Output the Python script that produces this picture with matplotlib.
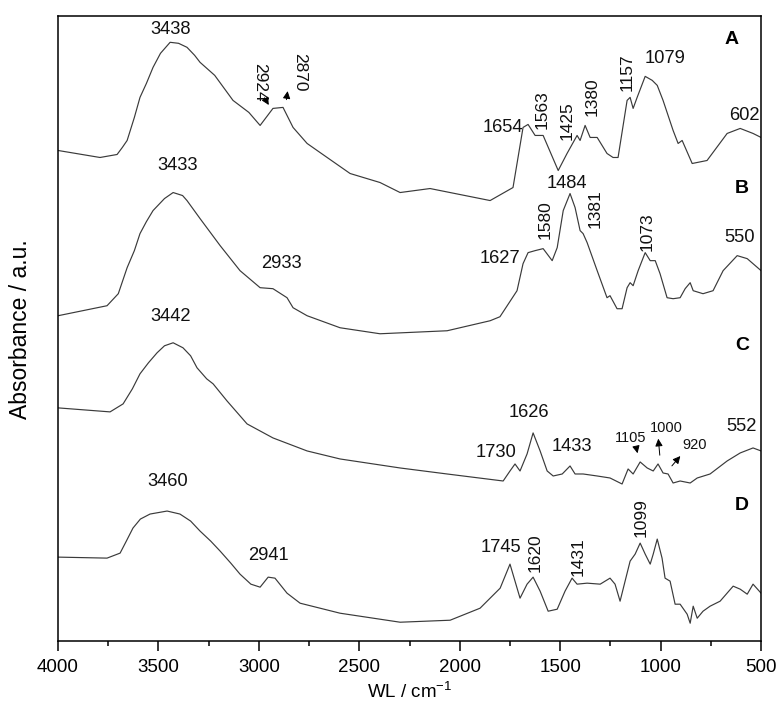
import matplotlib
matplotlib.use('Agg')
import matplotlib.pyplot as plt
from matplotlib.ticker import MultipleLocator

plt.rcParams['font.family'] = ['Liberation Sans', 'DejaVu Sans']
plt.rcParams['mathtext.fontset'] = 'custom'
plt.rcParams['mathtext.rm'] = 'Liberation Sans'
plt.rcParams['mathtext.it'] = 'Liberation Sans'

# spectra: wavenumber (cm-1) and absorbance (a.u., offset stacked)
wn_a = [4000, 3791, 3706, 3680, 3656, 3620, 3592, 3560, 3527, 3490, 3442, 3400, 3358,
        3320, 3293, 3220, 3129, 3050, 2994, 2930, 2880, 2830, 2760, 2696, 2546, 2397,
        2297, 2148, 1849, 1735, 1685, 1660, 1625, 1585, 1510, 1466, 1416, 1401, 1376,
        1351, 1316, 1267, 1237, 1212, 1167, 1152, 1137, 1117, 1077, 1042, 1017, 988,
        938, 913, 893, 843, 769, 669, 604, 540, 500]
abs_a = [4.90, 4.83, 4.86, 4.93, 5.00, 5.23, 5.43, 5.57, 5.73, 5.87, 5.98, 5.97, 5.93,
         5.85, 5.78, 5.65, 5.40, 5.28, 5.15, 5.32, 5.33, 5.13, 4.97, 4.88, 4.67, 4.58,
         4.48, 4.52, 4.40, 4.53, 5.13, 5.16, 5.05, 5.05, 4.70, 4.87, 5.05, 5.00, 5.15,
         5.03, 5.03, 4.87, 4.83, 4.83, 5.40, 5.43, 5.32, 5.43, 5.64, 5.60, 5.55, 5.40,
         5.10, 4.97, 5.00, 4.77, 4.80, 5.07, 5.12, 5.07, 5.03]

wn_b = [4000, 3756, 3700, 3656, 3620, 3592, 3560, 3527, 3470, 3427, 3380, 3358, 3293,
        3193, 3094, 2994, 2930, 2860, 2830, 2760, 2596, 2397, 2063, 1849, 1800, 1764,
        1715, 1685, 1660, 1625, 1585, 1540, 1515, 1485, 1451, 1426, 1401, 1386, 1366,
        1316, 1267, 1252, 1217, 1192, 1167, 1152, 1137, 1112, 1077, 1052, 1027, 1003,
        968, 938, 903, 878, 853, 838, 789, 739, 689, 619, 569, 500]
abs_b = [3.25, 3.35, 3.47, 3.73, 3.90, 4.07, 4.19, 4.30, 4.42, 4.48, 4.45, 4.40, 4.22,
         3.95, 3.70, 3.53, 3.52, 3.43, 3.33, 3.25, 3.13, 3.07, 3.10, 3.20, 3.24, 3.35,
         3.50, 3.77, 3.88, 3.90, 3.92, 3.80, 3.93, 4.30, 4.47, 4.33, 4.10, 4.07, 3.98,
         3.70, 3.43, 3.45, 3.32, 3.32, 3.53, 3.58, 3.55, 3.70, 3.88, 3.80, 3.80, 3.67,
         3.43, 3.42, 3.43, 3.52, 3.58, 3.50, 3.47, 3.50, 3.70, 3.85, 3.82, 3.70]

wn_c = [4000, 3741, 3676, 3630, 3592, 3550, 3507, 3470, 3427, 3378, 3340, 3308, 3260,
        3228, 3159, 3059, 2930, 2760, 2596, 2297, 2063, 1784, 1750, 1725, 1700, 1665,
        1635, 1600, 1565, 1535, 1490, 1451, 1426, 1386, 1316, 1252, 1192, 1162, 1137,
        1102, 1067, 1037, 1013, 988, 963, 938, 903, 853, 818, 754, 669, 604, 540, 500]
abs_c = [2.33, 2.29, 2.37, 2.52, 2.67, 2.78, 2.88, 2.95, 2.98, 2.93, 2.85, 2.73, 2.62,
         2.57, 2.40, 2.17, 2.03, 1.90, 1.82, 1.73, 1.67, 1.60, 1.70, 1.77, 1.70, 1.87,
         2.08, 1.90, 1.70, 1.65, 1.67, 1.75, 1.67, 1.67, 1.65, 1.63, 1.57, 1.72, 1.67,
         1.79, 1.73, 1.70, 1.77, 1.68, 1.67, 1.58, 1.60, 1.58, 1.63, 1.67, 1.80, 1.88,
         1.93, 1.90]

wn_d = [4000, 3756, 3691, 3660, 3627, 3590, 3542, 3457, 3393, 3340, 3293, 3240, 3193,
        3140, 3094, 3040, 2994, 2954, 2920, 2860, 2795, 2596, 2297, 2048, 1899, 1799,
        1750, 1700, 1665, 1635, 1600, 1560, 1515, 1476, 1441, 1416, 1366, 1301, 1252,
        1227, 1202, 1177, 1152, 1127, 1102, 1077, 1052, 1037, 1017, 993, 978, 953, 928,
        903, 868, 853, 838, 818, 789, 754, 704, 639, 604, 569, 540, 500]
abs_d = [0.84, 0.83, 0.88, 1.00, 1.13, 1.22, 1.27, 1.30, 1.27, 1.20, 1.10, 1.00, 0.90,
         0.78, 0.67, 0.57, 0.54, 0.64, 0.63, 0.48, 0.38, 0.28, 0.19, 0.21, 0.33, 0.53,
         0.77, 0.43, 0.57, 0.64, 0.50, 0.30, 0.32, 0.50, 0.63, 0.57, 0.58, 0.57, 0.63,
         0.57, 0.40, 0.60, 0.80, 0.87, 0.98, 0.87, 0.77, 0.87, 1.02, 0.83, 0.63, 0.60,
         0.37, 0.37, 0.27, 0.18, 0.35, 0.23, 0.30, 0.35, 0.40, 0.55, 0.52, 0.47, 0.57, 0.48]

# peak labels: text, x, y, rotation
labels_big = [('3438', 3442, 6.11, 0), ('1654', 1784, 5.13, 0), ('1079', 978, 5.82, 0),
              ('602', 584, 5.25, 0), ('3433', 3407, 4.75, 0), ('2933', 2890, 3.77, 0),
              ('1627', 1799, 3.82, 0), ('1484', 1466, 4.57, 0), ('550', 609, 4.03, 0),
              ('3442', 3442, 3.24, 0), ('1730', 1819, 1.88, 0), ('1626', 1655, 2.28, 0),
              ('1433', 1441, 1.94, 0), ('552', 599, 2.14, 0), ('3460', 3452, 1.59, 0),
              ('2941', 2954, 0.86, 0), ('1745', 1794, 0.94, 0)]
labels_rot = [('2924', 2994, 5.58, -90), ('2870', 2795, 5.68, -90), ('1563', 1590, 5.31, 90),
              ('1425', 1466, 5.20, 90), ('1380', 1341, 5.44, 90), ('1157', 1167, 5.68, 90),
              ('1580', 1575, 4.21, 90), ('1381', 1326, 4.32, 90), ('1073', 1067, 4.09, 90),
              ('1620', 1625, 0.88, 90), ('1431', 1411, 0.84, 90), ('1099', 1097, 1.23, 90)]
labels_small = [('1105', 1147, 2.03), ('1000', 973, 2.13), ('920', 833, 1.96)]
# arrows: (tail x, tail y, head x, head y)
arrows = [(2979, 5.45, 2944, 5.33), (2865, 5.38, 2855, 5.52),
          (1122, 1.94, 1112, 1.85), (1003, 1.83, 1013, 2.05), (953, 1.73, 893, 1.87)]
panel_names = [('A', 649, 6.01), ('B', 594, 4.52), ('C', 594, 2.95), ('D', 594, 1.36)]

fig = plt.figure(figsize=(7.79, 7.07), dpi=100)
ax = fig.add_axes([0.0745, 0.093, 0.9025, 0.884])

for wn, ab in [(wn_a, abs_a), (wn_b, abs_b), (wn_c, abs_c), (wn_d, abs_d)]:
    ax.plot(wn, ab, color='#3a3a3a', lw=0.85)

for t, x, y, r in labels_big:
    ax.text(x, y, t, ha='center', va='center', rotation=r, fontsize=13.2, color='#111111')
for t, x, y, r in labels_rot:
    ax.text(x, y, t, ha='center', va='center', rotation=r, fontsize=12.5, color='#111111')
for t, x, y in labels_small:
    ax.text(x, y, t, ha='center', va='center', fontsize=10.5, color='#111111')
for x0, y0, x1, y1 in arrows:
    ax.annotate('', xy=(x1, y1), xytext=(x0, y0),
                arrowprops=dict(arrowstyle='-|>', color='black', lw=0.7, mutation_scale=11))
for t, x, y in panel_names:
    ax.text(x, y, t, ha='center', va='center', fontsize=14, fontweight='bold')

ax.set_xlim(4000, 500)
ax.set_ylim(0, 6.24)
ax.xaxis.set_major_locator(MultipleLocator(500))
ax.xaxis.set_minor_locator(MultipleLocator(250))
ax.tick_params(axis='x', which='major', length=7, width=1.1, labelsize=13.5, pad=6)
ax.tick_params(axis='x', which='minor', length=3.6, width=1.1)
ax.set_yticks([])
for s in ax.spines.values():
    s.set_linewidth(1.1)

ax.set_xlabel('WL / cm$^{-1}$', fontsize=13.5, labelpad=4)
ax.set_ylabel('Absorbance / a.u.', fontsize=16.5)
ax.yaxis.set_label_coords(-0.037, 0.5)

fig.savefig('out.png', dpi=100)
